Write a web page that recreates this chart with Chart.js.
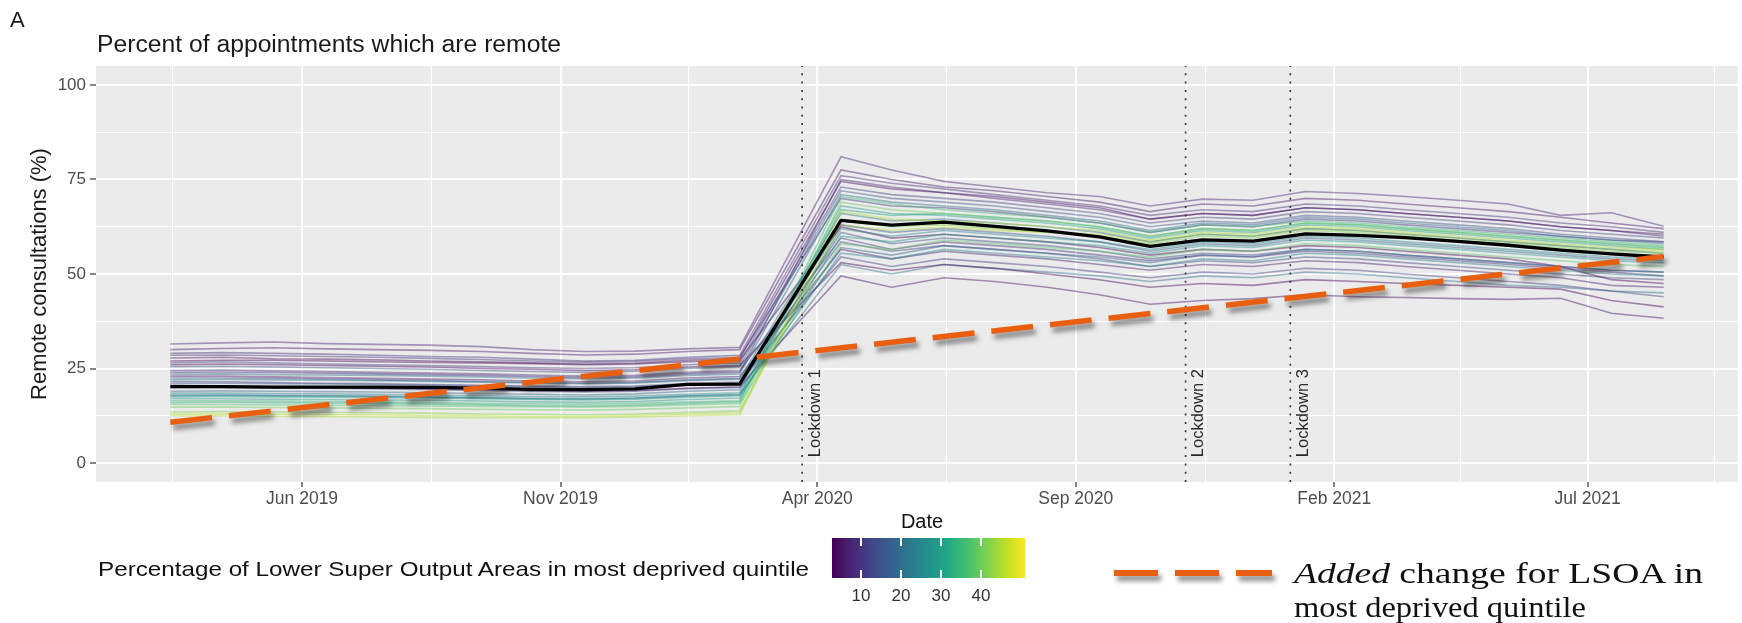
<!DOCTYPE html>
<html><head><meta charset="utf-8">
<script src="https://cdn.jsdelivr.net/npm/chart.js@4.4.1/dist/chart.umd.min.js"></script>
<style>
html,body{margin:0;padding:0;background:#fff;}
#wrap{position:relative;width:1742px;height:623px;overflow:hidden;font-family:"Liberation Sans",Arial,sans-serif;}
#c{position:absolute;left:0;top:0;}
.t{position:absolute;white-space:nowrap;transform-origin:0 50%;}
.serif{font-family:"Liberation Serif","Times New Roman",serif;color:#111;}
</style></head><body>
<div id="wrap">
<canvas id="c" width="1742" height="623"></canvas>
<div class="t" style="left:10px;top:7px;font-size:22px;line-height:26px;color:#1a1a1a;">A</div>
<div class="t fit" data-w="464" style="left:97px;top:30px;font-size:23px;line-height:28px;color:#1a1a1a;">Percent of appointments which are remote</div>
<div class="t fit" data-w="711" style="left:98px;top:555px;font-size:21px;line-height:28px;color:#111;">Percentage of Lower Super Output Areas in most deprived quintile</div>
<div class="t" id="cbTitle" style="top:508px;font-size:20px;line-height:26px;color:#111;">Date</div>
<div id="cbar" style="position:absolute;left:832px;top:538px;width:193px;height:40px;"></div>
<div id="cbTicks"></div>
<div class="t serif" id="leg1" style="left:1294px;top:555px;font-size:30px;line-height:36px;"><i>Added</i> change for LSOA in</div>
<div class="t serif" id="leg2" style="left:1294px;top:589px;font-size:30px;line-height:36px;">most deprived quintile</div>
</div>
<script>
// ---------------- DATA ----------------
const months = ['2019-03','2019-04','2019-05','2019-06','2019-07','2019-08','2019-09','2019-10','2019-11','2019-12','2020-01','2020-02',
  '2020-04','2020-05','2020-06','2020-07','2020-08','2020-09','2020-10','2020-11','2020-12','2021-01','2021-02','2021-03','2021-04','2021-05','2021-06','2021-07','2021-08'];

const meanRemote = [20.2,20.2,20.1,20.1,20.1,20.0,19.8,19.5,19.4,19.6,20.8,20.9,
  64.2,62.9,63.7,62.6,61.4,59.8,57.3,59.0,58.7,60.6,60.2,59.6,58.6,57.6,56.3,55.3,54.5];

const addedChangeMonths = ['2019-03','2021-08'];
const addedChangeValues = [10.8, 54.6];

const lockdownDates = ['2020-03-23','2020-11-05','2021-01-06'];
const lockdownLabels = ['Lockdown 1','Lockdown 2','Lockdown 3'];

const xTickDates = ['2019-06-01','2019-11-01','2020-04-01','2020-09-01','2021-02-01','2021-07-01'];
const xTickLabels = ['Jun 2019','Nov 2019','Apr 2020','Sep 2020','Feb 2021','Jul 2021'];
const yTickValues = [0,25,50,75,100];
const colorbarTicks = [10,20,30,40];
const colorbarRange = [2.75, 51];

// percentage of LSOAs in most deprived quintile for each area line
const areaDeprivation = [8,6,10,4,12,15,35,40,45,42,30,25,28,38,20,22,18,24,9,7,11,5,3,14,2,32,16,10,46,20,8,13];

const area01 = [31.5,31.8,32.0,31.6,31.4,31.2,30.8,30.0,29.5,29.6,30.2,30.6, 81.0,77.5,74.5,73.0,71.5,70.5,68.0,69.8,69.5,71.8,71.3,70.5,69.5,68.5,65.5,66.2,62.6];
const area02 = [30.0,30.3,30.5,30.2,30.0,29.8,29.5,29.0,28.6,28.8,29.5,30.0, 77.5,75.0,73.0,72.0,70.5,69.0,66.5,68.5,68.0,70.0,69.5,68.5,67.5,66.5,65.0,63.5,62.0];
const area03 = [29.0,29.2,29.0,28.8,28.5,28.2,28.0,27.5,27.0,27.2,28.0,28.5, 76.0,74.0,72.5,71.0,69.5,68.0,65.5,67.0,66.5,68.5,68.0,67.0,66.0,65.0,63.5,62.5,61.0];
const area04 = [27.8,28.0,27.6,27.5,27.3,27.0,26.8,26.5,26.2,26.4,27.2,27.6, 74.5,72.5,71.5,70.5,69.0,67.5,64.5,66.0,65.5,67.5,67.0,66.0,65.0,64.0,62.5,61.5,60.5];
const area05 = [26.5,26.8,26.5,26.2,26.0,25.8,25.5,25.2,25.0,25.2,26.0,26.5, 73.0,71.0,70.0,69.0,67.5,66.0,63.5,65.0,64.5,66.5,66.0,65.0,64.0,63.0,61.5,60.5,59.5];
const area06 = [25.5,25.6,25.4,25.2,25.0,24.8,24.5,24.2,24.0,24.3,25.0,25.5, 72.0,70.0,69.0,68.0,66.5,65.0,62.5,64.0,63.5,65.5,65.0,64.0,63.0,62.0,60.5,59.5,58.5];
const area07 = [16.5,16.5,16.4,16.3,16.2,16.0,15.8,15.7,15.6,15.8,16.2,16.5, 70.5,68.5,67.0,66.0,65.0,63.5,61.0,63.0,62.5,64.0,63.5,62.5,61.5,60.5,59.5,58.5,57.5];
const area08 = [14.8,14.8,14.7,14.6,14.5,14.4,14.2,14.1,14.0,14.2,14.6,15.0, 69.0,67.0,66.0,65.0,64.0,62.5,60.0,62.0,61.5,63.5,63.0,62.0,61.0,60.0,59.0,58.0,57.0];
const area09 = [12.5,12.5,12.4,12.3,12.2,12.1,12.0,12.0,12.0,12.2,12.5,12.8, 66.5,64.5,64.0,63.5,62.5,61.5,59.0,61.0,60.5,62.5,62.0,61.0,60.0,59.0,58.0,57.0,56.5];
const area10 = [13.5,13.6,13.5,13.4,13.3,13.2,13.0,12.9,12.8,13.0,13.4,13.8, 64.0,62.5,63.0,62.0,61.0,60.0,58.0,60.0,59.5,61.5,61.0,60.0,59.0,58.0,57.0,56.0,55.5];
const area11 = [17.5,17.6,17.5,17.4,17.3,17.2,17.0,16.8,16.7,16.9,17.4,17.8, 68.0,66.0,65.5,64.5,63.5,62.0,59.5,61.5,61.0,63.0,62.5,61.5,60.5,59.5,58.5,57.5,56.5];
const area12 = [18.5,18.5,18.4,18.3,18.2,18.0,17.8,17.6,17.5,17.7,18.2,18.6, 62.0,60.0,61.5,60.5,59.5,58.5,56.5,58.5,58.0,60.0,59.5,58.5,57.5,56.5,55.5,54.5,54.0];
const area13 = [17.0,17.0,16.9,16.8,16.7,16.6,16.4,16.2,16.1,16.3,16.8,17.2, 60.0,58.5,60.5,59.5,58.5,57.5,55.5,57.5,57.0,59.0,58.5,57.5,56.5,55.5,54.5,53.5,53.0];
const area14 = [15.5,15.5,15.4,15.3,15.2,15.1,15.0,14.9,14.8,15.0,15.4,15.8, 58.0,56.5,59.0,58.0,57.0,56.0,54.5,56.5,56.0,58.0,57.5,56.5,55.5,54.5,53.5,52.5,52.0];
const area15 = [23.5,23.6,23.4,23.3,23.2,23.0,22.8,22.5,22.3,22.5,23.2,23.6, 71.0,69.0,68.0,67.0,65.5,64.0,61.5,63.5,63.0,65.0,64.5,63.5,62.5,61.5,60.0,59.0,58.0];
const area16 = [22.0,22.1,22.0,21.9,21.8,21.6,21.4,21.2,21.0,21.2,21.8,22.2, 66.0,64.0,64.5,63.5,62.5,61.0,58.5,60.5,60.0,62.0,61.5,60.5,59.5,58.5,57.5,56.5,55.5];
const area17 = [19.0,19.1,19.0,18.9,18.8,18.6,18.4,18.2,18.0,18.3,19.0,19.4, 57.0,55.0,57.5,56.5,55.5,54.5,53.0,55.0,54.5,56.5,56.0,55.0,54.0,53.0,52.0,51.0,50.5];
const area18 = [17.8,17.9,17.8,17.7,17.6,17.4,17.2,17.0,16.9,17.1,17.7,18.0, 55.5,54.0,56.5,55.5,54.5,53.5,52.0,54.0,53.5,55.5,55.0,54.0,53.0,52.0,51.0,50.0,49.5];
const area19 = [24.5,24.6,24.4,24.2,24.0,23.8,23.6,23.3,23.0,23.2,24.0,24.4, 59.5,56.5,58.5,57.5,56.5,55.0,53.5,55.0,54.5,56.0,55.5,54.5,53.5,52.5,51.5,50.5,49.5];
const area20 = [23.0,23.0,22.8,22.6,22.4,22.2,22.0,21.7,21.5,21.7,22.5,22.9, 56.5,54.0,56.0,55.0,54.0,52.5,51.0,52.5,52.0,53.5,53.0,52.0,51.0,50.0,49.0,47.0,46.5];
const area21 = [21.5,21.5,21.3,21.1,21.0,20.8,20.6,20.4,20.2,20.4,21.0,21.4, 54.5,52.0,54.0,53.0,52.0,50.5,49.0,50.5,50.0,51.5,51.0,50.0,49.0,48.0,47.0,45.5,44.0];
const area22 = [20.5,20.4,20.2,20.0,19.8,19.6,19.4,19.2,19.0,19.2,19.8,20.2, 49.5,46.5,49.0,48.0,46.5,44.5,42.0,43.0,43.5,44.5,44.0,43.8,43.5,43.3,43.6,39.6,38.3];
const area23 = [26.0,26.2,26.0,25.8,25.6,25.4,25.0,24.8,24.5,24.7,25.4,25.8, 53.0,51.0,52.5,51.5,50.0,48.5,46.5,47.5,47.0,48.5,48.0,47.5,47.0,46.5,46.0,43.0,41.3];
const area24 = [20.0,20.0,19.9,19.8,19.6,19.4,19.2,19.0,18.8,19.0,19.7,20.0, 61.0,58.0,59.5,58.5,57.5,56.0,54.0,55.5,55.0,56.5,56.0,55.0,54.0,53.0,52.0,51.0,50.5];
const area25 = [27.0,27.2,27.2,27.0,26.8,26.6,26.5,26.3,26.0,26.2,26.8,27.2, 62.5,59.5,60.5,59.5,58.5,57.0,55.0,56.5,56.0,57.5,57.0,56.0,55.0,54.0,52.0,48.5,47.5];
const area26 = [16.0,16.1,16.0,15.9,15.8,15.6,15.4,15.2,15.1,15.3,15.8,16.2, 67.0,65.5,66.0,65.0,64.0,62.5,60.0,62.0,61.5,63.5,63.0,62.0,61.0,60.0,59.0,58.0,57.0];
const area27 = [21.0,21.1,21.0,20.9,20.8,20.6,20.4,20.2,20.0,20.2,20.8,21.2, 63.0,61.0,62.0,61.0,60.0,58.5,56.0,58.0,57.5,59.5,59.0,58.0,57.0,56.0,55.0,54.0,53.5];
const area28 = [28.5,28.6,28.4,28.2,28.0,27.7,27.4,27.0,26.7,26.9,27.6,28.0, 70.0,68.0,67.5,66.5,65.0,63.5,61.0,63.0,62.5,64.5,64.0,63.0,62.0,61.0,60.0,59.0,58.5];
const area29 = [13.0,13.0,12.9,12.8,12.7,12.6,12.5,12.4,12.4,12.6,13.0,13.3, 63.0,61.5,62.5,61.5,61.0,60.5,58.5,60.5,60.0,62.0,61.5,60.5,59.5,58.5,57.5,56.5,56.0];
const area30 = [18.0,18.0,17.9,17.8,17.7,17.5,17.3,17.1,17.0,17.2,17.8,18.2, 52.5,50.0,52.5,51.5,50.5,49.5,48.0,49.5,49.0,50.5,50.0,49.0,48.0,47.0,46.5,45.5,45.0];
const area31 = [24.0,24.1,24.0,23.8,23.6,23.4,23.2,22.9,22.6,22.8,23.6,24.0, 75.0,73.0,71.5,70.0,68.5,67.0,64.5,66.0,65.5,67.5,67.0,66.0,65.0,64.0,62.5,61.5,60.0];
const area32 = [22.5,22.5,22.4,22.2,22.0,21.8,21.5,21.3,21.1,21.3,22.0,22.4, 58.5,56.0,57.5,56.5,55.5,54.0,52.0,53.5,53.0,54.5,54.0,53.0,52.0,51.0,50.0,49.0,48.5];

const areaSeries = [area01,area02,area03,area04,area05,area06,area07,area08,area09,area10,area11,area12,area13,area14,area15,area16,
  area17,area18,area19,area20,area21,area22,area23,area24,area25,area26,area27,area28,area29,area30,area31,area32];

// ---------------- HELPERS ----------------
const ORIGIN = Date.UTC(2019,5,1);
function dayOfDate(s){ const p=s.split('-').map(Number); return (Date.UTC(p[0],p[1]-1,p[2]||15)-ORIGIN)/86400000; }
const VIR = ['#440154','#482475','#414487','#355f8d','#2a788e','#21918c','#22a884','#44bf70','#7ad151','#bddf26','#fde725'];
function hex(h){ return [1,3,5].map(i=>parseInt(h.substr(i,2),16)); }
function viridis(v, a){
  let t=(v-colorbarRange[0])/(colorbarRange[1]-colorbarRange[0]); t=Math.max(0,Math.min(1,t));
  const p=t*10, i=Math.min(9,Math.floor(p)), f=p-i, A=hex(VIR[i]), B=hex(VIR[i+1]);
  const c=A.map((x,k)=>Math.round(x+(B[k]-x)*f));
  return `rgba(${c[0]},${c[1]},${c[2]},${a})`;
}

const xMajors = xTickDates.map(dayOfDate);
const xMinors = [];
for (let i=0;i<xMajors.length-1;i++) xMinors.push((xMajors[i]+xMajors[i+1])/2);
xMinors.unshift(xMajors[0]-(xMajors[1]-xMajors[0])/2);
xMinors.push(xMajors[xMajors.length-1]+(xMajors[xMajors.length-1]-xMajors[xMajors.length-2])/2);
const xAllTicks = xMajors.concat(xMinors).sort((a,b)=>a-b);
const yAllTicks = [0,12.5,25,37.5,50,62.5,75,87.5,100];
const isXMajor = v => xMajors.some(m=>Math.abs(m-v)<0.01);
const isYMajor = v => yTickValues.some(m=>Math.abs(m-v)<0.01);

// ---------------- DATASETS ----------------
const datasets = [];
datasets.push({
  data: addedChangeMonths.map((m,i)=>({x:dayOfDate(m), y:addedChangeValues[i]})),
  borderColor:'#e8600f', borderWidth:5.5, borderDash:[42,17], borderCapStyle:'butt',
  pointRadius:0, tension:0, order:0, shadow:true
});
datasets.push({
  data: months.map((m,i)=>({x:dayOfDate(m), y:meanRemote[i]})),
  borderColor:'#000', borderWidth:3.3, pointRadius:0, tension:0, order:1, borderJoinStyle:'round'
});
lockdownDates.forEach(d=>{
  datasets.push({
    data:[{x:dayOfDate(d),y:-5},{x:dayOfDate(d),y:105}],
    borderColor:'#3a3a3a', borderWidth:1.7, borderDash:[2,6.3], pointRadius:0, order:2
  });
});
areaSeries.forEach((s,k)=>{
  datasets.push({
    data: months.map((m,i)=>({x:dayOfDate(m), y:s[i]})),
    borderColor: viridis(areaDeprivation[k], 0.45), borderWidth:1.6,
    pointRadius:0, tension:0, order:3
  });
});

// ---------------- PLUGINS ----------------
const panelBg = {
  id:'panelBg',
  beforeDraw(chart){ const {ctx,chartArea:a}=chart; ctx.save(); ctx.fillStyle='#ebebeb'; ctx.fillRect(a.left,a.top,a.right-a.left,a.bottom-a.top); ctx.restore(); }
};
const shadowPl = {
  id:'shadowPl',
  beforeDatasetDraw(chart,args){ const ds=chart.data.datasets[args.index]; if(!ds.shadow) return; const c=chart.ctx; c.save(); c.shadowColor='rgba(40,40,40,0.55)'; c.shadowBlur=5; c.shadowOffsetX=3; c.shadowOffsetY=5; },
  afterDatasetDraw(chart,args){ const ds=chart.data.datasets[args.index]; if(!ds.shadow) return; chart.ctx.restore(); }
};
const lockLabels = {
  id:'lockLabels',
  afterDatasetsDraw(chart){
    const {ctx,scales:{x,y}}=chart;
    ctx.save(); ctx.fillStyle='#2b2b2b'; ctx.font='16.5px "Liberation Sans", Arial, sans-serif';
    ctx.textAlign='center'; ctx.textBaseline='middle';
    lockdownDates.forEach((d,i)=>{
      const px=x.getPixelForValue(dayOfDate(d))+13, py=y.getPixelForValue(13.2);
      ctx.save(); ctx.translate(px,py); ctx.rotate(-Math.PI/2); ctx.fillText(lockdownLabels[i],0,0); ctx.restore();
    });
    ctx.restore();
  }
};
const legendDash = {
  id:'legendDash',
  afterDraw(chart){
    const c=chart.ctx; c.save();
    c.shadowColor='rgba(40,40,40,0.55)'; c.shadowBlur=5; c.shadowOffsetX=3; c.shadowOffsetY=5;
    c.strokeStyle='#e8600f'; c.lineWidth=6; c.setLineDash([44,17]); c.lineCap='butt';
    c.beginPath(); c.moveTo(1114,573); c.lineTo(1272,573); c.stroke(); c.restore();
  }
};

// ---------------- CHART ----------------
new Chart(document.getElementById('c'), {
  type:'line',
  data:{datasets},
  plugins:[panelBg,shadowPl,lockLabels,legendDash],
  options:{
    responsive:false, animation:false, devicePixelRatio:1,
    layout:{padding:{top:66,right:4,left:0,bottom:0}},
    plugins:{legend:{display:false},tooltip:{enabled:false},title:{display:false}},
    scales:{
      x:{
        type:'linear', min:-122, max:850,
        afterBuildTicks(s){ s.ticks = xAllTicks.map(v=>({value:v})); },
        afterFit(s){ s.height=141; },
        border:{display:false},
        grid:{
          color:'#ffffff',
          lineWidth:c=>isXMajor(c.tick.value)?2:1,
          tickColor:c=>isXMajor(c.tick.value)?'#333333':'rgba(0,0,0,0)',
          tickLength:5, tickWidth:1.2, drawTicks:true
        },
        ticks:{
          autoSkip:false, maxRotation:0, padding:2, color:'#4d4d4d',
          font:{family:'"Liberation Sans", Arial, sans-serif', size:17.5},
          callback:(v)=>{ const i=xMajors.findIndex(m=>Math.abs(m-v)<0.01); return i>=0?xTickLabels[i]:''; }
        }
      },
      y:{
        min:-5, max:105,
        afterBuildTicks(s){ s.ticks = yAllTicks.map(v=>({value:v})); },
        afterFit(s){ s.width=96; },
        border:{display:false},
        grid:{
          color:'#ffffff',
          lineWidth:c=>isYMajor(c.tick.value)?2:1,
          tickColor:c=>isYMajor(c.tick.value)?'#333333':'rgba(0,0,0,0)',
          tickLength:6, tickWidth:1.2, drawTicks:true
        },
        ticks:{
          padding:4, color:'#4d4d4d',
          font:{family:'"Liberation Sans", Arial, sans-serif', size:17},
          callback:(v)=> isYMajor(v)? String(v):''
        },
        title:{display:true, text:'Remote consultations (%)', color:'#1a1a1a',
          font:{family:'"Liberation Sans", Arial, sans-serif', size:22}, padding:{top:27,bottom:0}}
      }
    }
  }
});

// ---------------- HTML LEGEND ----------------
const cb=document.getElementById('cbar');
cb.style.background='linear-gradient(to right,'+VIR.join(',')+')';
const cbL=832, cbW=193, cbT=538, cbH=40;
const tickBox=document.getElementById('cbTicks');
colorbarTicks.forEach(v=>{
  const px=cbL+(v-colorbarRange[0])/(colorbarRange[1]-colorbarRange[0])*cbW;
  ['top','bot'].forEach(pos=>{
    const m=document.createElement('div');
    m.style.cssText=`position:absolute;left:${px-0.75}px;top:${pos==='top'?cbT:cbT+cbH-8}px;width:1.5px;height:8px;background:#fff;`;
    tickBox.appendChild(m);
  });
  const l=document.createElement('div');
  l.className='t'; l.textContent=String(v);
  l.style.cssText+=`top:584px;font-size:17px;line-height:24px;color:#333;`;
  tickBox.appendChild(l);
  l.style.left=(px-l.getBoundingClientRect().width/2)+'px';
});
const dt=document.getElementById('cbTitle');
dt.style.left=(922-dt.getBoundingClientRect().width/2)+'px';

function fitAll(){
  document.querySelectorAll('.fit').forEach(el=>{
    el.style.transform='none';
    const w=el.getBoundingClientRect().width; const tw=+el.dataset.w;
    el.style.transform=`scaleX(${tw/w})`;
  });
  const l1=document.getElementById('leg1'), l2=document.getElementById('leg2');
  const w1=l1.getBoundingClientRect().width, w2=l2.getBoundingClientRect().width;
  l1.style.transform=`scaleX(${409/w1})`; l2.style.transform=`scaleX(${292/w2})`;
}
fitAll();
</script>
</body></html>
